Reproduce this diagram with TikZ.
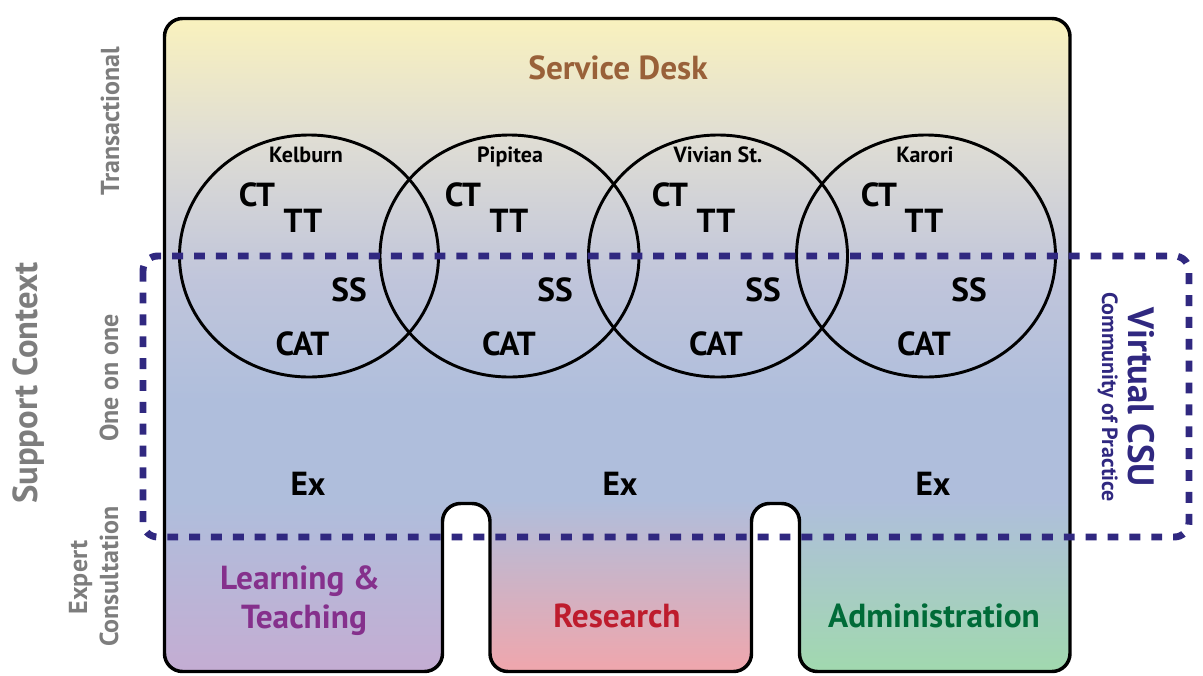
\documentclass[tikz,border=0pt]{standalone}
\usepackage{fontspec}
\setmainfont{PT Sans}
\definecolor{dashblue}{RGB}{48,40,128}
\definecolor{sdbrown}{RGB}{153,97,57}
\definecolor{ltpurple}{RGB}{133,48,140}
\definecolor{resred}{RGB}{190,28,45}
\definecolor{admgreen}{RGB}{0,107,56}
\definecolor{lblgray}{RGB}{125,125,125}
\definecolor{gA}{RGB}{251,243,188}
\definecolor{gB}{RGB}{223,221,212}
\definecolor{gC}{RGB}{192,197,219}
\definecolor{gD}{RGB}{175,190,220}
\definecolor{pL}{RGB}{197,172,210}
\definecolor{pM}{RGB}{243,165,170}
\definecolor{pR}{RGB}{160,218,172}
\tikzset{
  big/.style={font=\bfseries\fontsize{25}{25}\selectfont, inner sep=0pt, anchor=base},
  site/.style={font=\bfseries\fontsize{16.5}{16.5}\selectfont, inner sep=0pt, anchor=base},
  side/.style={font=\bfseries\fontsize{19.5}{19.5}\selectfont, text=lblgray, inner sep=0pt, anchor=base, rotate=90},
  ring/.style={line width=2.2pt, draw=black},
  frame/.style={line width=2.6pt, draw=black, rounded corners=13.5pt},
  csu/.style={line width=5.2pt, draw=dashblue, dash pattern=on 8.2pt off 8.2pt, rounded corners=11pt}
}
\begin{document}
\begin{tikzpicture}[x=0.75pt,y=-0.75pt]
\useasboundingbox (0,0) rectangle (1203,675);
% gradient fill of the main shape
\begin{scope}
\clip[rounded corners=13.5pt] (164.5,300) -- (164.5,18.5) -- (1070,18.5) -- (1070,671.5) -- (799.5,671.5) -- (799.5,503.5) -- (751.5,503.5) -- (751.5,671.5) -- (490,671.5) -- (490,503.5) -- (442.5,503.5) -- (442.5,671.5) -- (164.5,671.5) -- cycle;
\shade[top color=gA, bottom color=gB] (150,10) rectangle (1080,141);
\shade[top color=gB, bottom color=gC] (150,140) rectangle (1080,281);
\shade[top color=gC, bottom color=gD] (150,280) rectangle (1080,401);
\fill[gD] (150,400) rectangle (1080,560);
\shade[top color=gD, bottom color=pL] (150,500) rectangle (446,680);
\shade[top color=gD, bottom color=pM] (486,500) rectangle (756,680);
\shade[top color=gD, bottom color=pR] (795,500) rectangle (1080,680);
\end{scope}
\draw[frame] (164.5,300) -- (164.5,18.5) -- (1070,18.5) -- (1070,671.5) -- (799.5,671.5) -- (799.5,503.5) -- (751.5,503.5) -- (751.5,671.5) -- (490,671.5) -- (490,503.5) -- (442.5,503.5) -- (442.5,671.5) -- (164.5,671.5) -- cycle;
% circles
\draw[ring] (309,256) ellipse [x radius=129.5, y radius=121];
\draw[ring] (509.5,256) ellipse [x radius=129.5, y radius=121];
\draw[ring] (718,256) ellipse [x radius=129.5, y radius=121];
\draw[ring] (926,256) ellipse [x radius=129.5, y radius=121];
% title
\node[big, text=sdbrown] (sd) at (618,79) {Service Desk};
% sites
\node[site] (n1) at (306,162) {Kelburn};
\node[site] (n2) at (510,162) {Pipitea};
\node[site] (n3) at (718,162) {Vivian St.};
\node[site] (n4) at (925,162) {Karori};
\node[big] (ct1) at (257,206) {CT};
\node[big] (tt1) at (303,232.5) {TT};
\node[big] (ss1) at (349,301.5) {SS};
\node[big] (cat1) at (302.5,355) {CAT};
\node[big] (ct2) at (463,206) {CT};
\node[big] (tt2) at (509,232.5) {TT};
\node[big] (ss2) at (555,301.5) {SS};
\node[big] (cat2) at (509,355) {CAT};
\node[big] (ct3) at (670,206) {CT};
\node[big] (tt3) at (716,232.5) {TT};
\node[big] (ss3) at (763,301.5) {SS};
\node[big] (cat3) at (716,355) {CAT};
\node[big] (ct4) at (879,206) {CT};
\node[big] (tt4) at (924,232.5) {TT};
\node[big] (ss4) at (969,301.5) {SS};
\node[big] (cat4) at (924,355) {CAT};
% Ex
\node[big] (ex1) at (308,495) {Ex};
\node[big] (ex2) at (620,495) {Ex};
\node[big] (ex3) at (933,495) {Ex};
% panels
\node[big, text=ltpurple] (lt1) at (300,589) {Learning \&};
\node[big, text=ltpurple] (lt2) at (304,628) {Teaching};
\node[big, text=resred] (res) at (617,627) {Research};
\node[big, text=admgreen] (adm) at (934,627) {Administration};
% left labels
\node[side] (trans) at (119,121) {Transactional};
\node[side] (one) at (118,378) {One on one};
\node[side] (expert) at (87,577.5) {Expert};
\node[side] (consult) at (118,576.5) {Consultation};
\node[side, font=\bfseries\fontsize{26}{26}\selectfont] (support) at (37,383) {Support Context};
% virtual CSU
\draw[csu] (143,256) rectangle (1189,537);
\node[font=\bfseries\fontsize{27.5}{27.5}\selectfont, text=dashblue, inner sep=0pt, anchor=base, rotate=-90] (vcsu) at (1128,397) {Virtual CSU};
\node[font=\bfseries\fontsize{16.5}{16.5}\selectfont, text=dashblue, inner sep=0pt, anchor=base, rotate=-90] (cop) at (1102,397) {Community of Practice};
\end{tikzpicture}
\end{document}
